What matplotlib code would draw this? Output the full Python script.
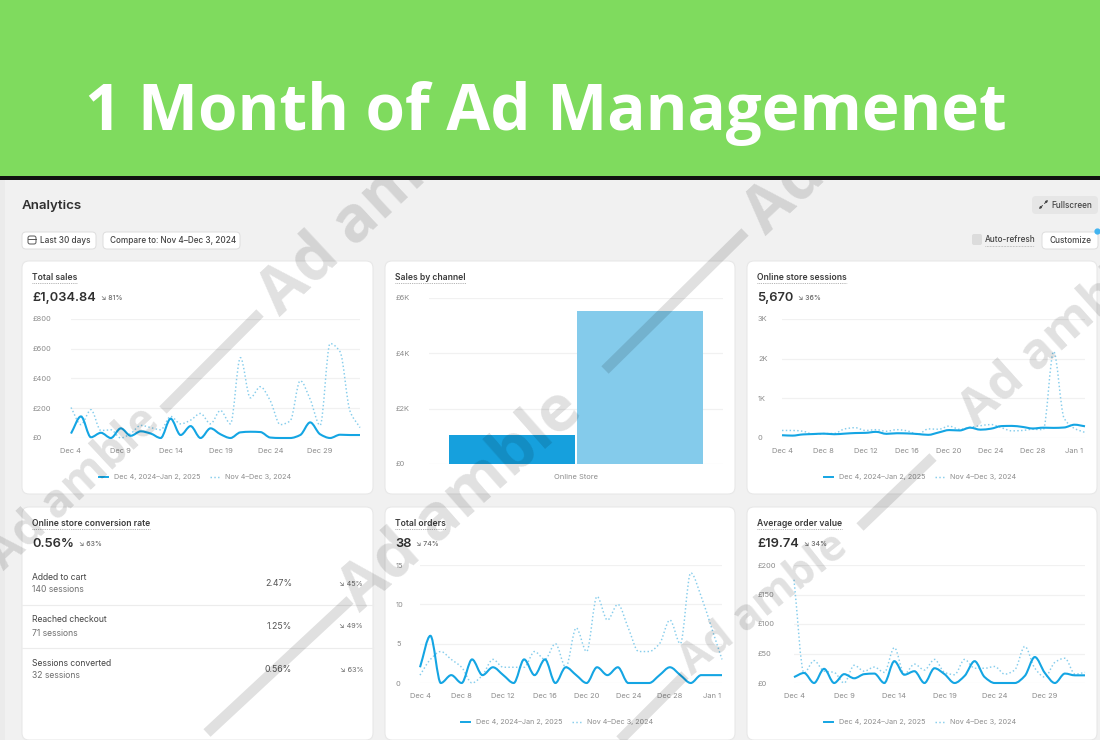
# analytics dashboard screenshot, six cards under a green banner

import matplotlib
matplotlib.use("Agg")
import numpy as np
import matplotlib.pyplot as plt
from matplotlib.path import Path
from matplotlib.patches import FancyBboxPatch, PathPatch, Rectangle
from matplotlib.lines import Line2D

plt.rcParams["font.family"] = ["Inter", "DejaVu Sans"]

W, H = 1100, 740

BANNER_TITLE = "1 Month of Ad Managemenet"
CUR_LABEL = "Dec 4, 2024\u2013Jan 2, 2025"
PREV_LABEL = "Nov 4\u2013Dec 3, 2024"

# per day values, Dec 4 to Jan 2
sales_cur = [30, 145, 5, 35, 0, 65, 15, 45, 30, 0, 130, 20, 80, 0, 65, 25, 0, 38, 42, 40, 3, 0, 0, 20, 105, 25, 0, 22, 20, 20]
sales_prev = [205, 90, 190, 50, 55, 0, 30, 85, 70, 55, 145, 95, 120, 165, 95, 185, 95, 540, 270, 345, 250, 90, 115, 385, 260, 85, 635, 580, 180, 70]
sessions_cur = [70, 60, 90, 100, 110, 95, 110, 125, 130, 155, 105, 120, 115, 100, 80, 140, 200, 190, 260, 210, 235, 300, 305, 280, 240, 260, 255, 265, 335, 295]
sessions_prev = [190, 190, 170, 95, 110, 115, 230, 260, 190, 210, 170, 210, 180, 90, 230, 220, 300, 220, 270, 310, 340, 260, 180, 190, 220, 210, 2180, 500, 240, 140]
orders_cur = [2, 6, 0, 1, 0, 3, 1, 2, 1, 0, 3, 1, 3, 0, 2, 1, 0, 2, 1, 2, 0, 0, 0, 1, 2, 1, 0, 1, 1, 1]
orders_prev = [1, 3, 4, 3, 2, 0, 1, 3, 2, 2, 2, 4, 3, 5, 2, 7, 4, 11, 8, 10, 7, 4, 4, 5, 8, 5, 14, 11, 7, 3]
aov_cur = [10, 17, 0, 24, 0, 15, 8, 15, 16, 0, 37, 14, 20, 0, 25, 15, 0, 12, 37, 10, 0, 0, 0, 12, 44, 17, 0, 16, 13, 13]
aov_prev = [175, 17, 38, 20, 18, 0, 30, 20, 27, 18, 60, 15, 32, 22, 40, 18, 14, 40, 25, 25, 28, 15, 22, 62, 25, 10, 35, 42, 15, 18]

channel_names = ["Online Store"]
channel_cur = [1034]
channel_prev = [5540]

funnel_names = ["Added to cart", "Reached checkout", "Sessions converted"]
funnel_sessions = ["140 sessions", "71 sessions", "32 sessions"]
funnel_rates = ["2.47%", "1.25%", "0.56%"]
funnel_changes = ["45%", "49%", "63%"]

every5_ticks = [0, 5, 10, 15, 20, 25]
every5_labels = ["Dec 4", "Dec 9", "Dec 14", "Dec 19", "Dec 24", "Dec 29"]
every4_ticks = [0, 4, 8, 12, 16, 20, 24, 28]
every4_labels = ["Dec 4", "Dec 8", "Dec 12", "Dec 16", "Dec 20", "Dec 24", "Dec 28", "Jan 1"]

GREEN = "#7fdb5e"
BLUE = "#14a5e3"
LIGHT = "#84cbeb"
DOTTED = "#86cdec"
TXT = "#303030"
GREY = "#8c8c8c"
GRID = "#f1f1f1"
PX = 0.72  # points per pixel at dpi 100


def axes_px(x0, y0, x1, y1, **kw):
    # rect given in image pixels, y down
    return fig.add_axes([x0 / W, 1 - y1 / H, (x1 - x0) / W, (y1 - y0) / H], **kw)


def monotone_path(ys):
    # monotone cubic through the daily values, drawn as bezier segments
    xs = np.arange(len(ys), dtype=float)
    ys = np.asarray(ys, dtype=float)
    d = np.diff(ys)
    m = np.zeros(len(ys))
    for i in range(1, len(ys) - 1):
        if d[i - 1] * d[i] > 0:
            m[i] = 2 * d[i - 1] * d[i] / (d[i - 1] + d[i])
    m[0] = d[0]
    m[-1] = d[-1]
    verts = [(xs[0], ys[0])]
    codes = [Path.MOVETO]
    for i in range(len(ys) - 1):
        verts.append((xs[i] + 1 / 3, ys[i] + m[i] / 3))
        verts.append((xs[i + 1] - 1 / 3, ys[i + 1] - m[i + 1] / 3))
        verts.append((xs[i + 1], ys[i + 1]))
        codes += [Path.CURVE4] * 3
    return Path(verts, codes)


def card(x0, y0, x1, y1):
    bg.add_patch(FancyBboxPatch((x0 + 7, y0 + 7), x1 - x0 - 14, y1 - y0 - 14,
                                boxstyle="round,pad=7,rounding_size=7",
                                fc="white", ec="#e8e8e8", lw=0.8, zorder=2))


def card_head(x, y, title, value=None, change=None):
    t = bg.text(x, y, title, fontsize=6.2, fontweight="semibold", color="#3c3c3c", va="center", zorder=3)
    r = t.get_window_extent(fig.canvas.get_renderer())
    bg.plot([x, x + r.width], [y + 6, y + 6], color="#9a9a9a", lw=0.6, ls=(0, (1, 1.2)), zorder=3)
    if value is None:
        return
    v = bg.text(x, y + 21, value, fontsize=9.3, fontweight="semibold", color=TXT, va="center", zorder=3)
    r = v.get_window_extent(fig.canvas.get_renderer())
    bg.text(x + r.width + 5, y + 21, "\u2198 " + change, fontsize=5, fontweight="medium", color="#6a6a6a",
            va="center", zorder=3)


def style_ax(ax, ylim, yticks, ylabels, ylab_x, left_px):
    ax.set_facecolor("none")
    ax.set_ylim(*ylim)
    ax.set_yticks(yticks)
    ax.set_yticklabels(ylabels)
    for s in ax.spines.values():
        s.set_visible(False)
    ax.grid(axis="y", color=GRID, lw=0.9)
    ax.set_axisbelow(True)
    ax.tick_params(length=0, labelsize=5.4, labelcolor=GREY)
    ax.tick_params(axis="x", pad=7.5)
    ax.tick_params(axis="y", pad=(left_px - ylab_x) * PX)
    # pad resets the alignment, so this has to come after it
    for lab in ax.get_yticklabels():
        lab.set_horizontalalignment("left")


def line_chart(rect, card_mid, cur, prev, ylim, yticks, ylabels, xticks, xlabels, ylab_x):
    ax = axes_px(*rect)
    ax.set_xlim(0, 29)
    ax.set_xticks(xticks)
    ax.set_xticklabels(xlabels)
    style_ax(ax, ylim, yticks, ylabels, ylab_x, rect[0])
    ax.add_patch(PathPatch(monotone_path(prev), fc="none", ec=DOTTED, lw=1.05, ls=(0, (1, 1.6)), clip_on=False))
    ax.add_patch(PathPatch(monotone_path(cur), fc="none", ec=BLUE, lw=1.5, clip_on=False))
    handles = [Line2D([], [], color=BLUE, lw=1.4), Line2D([], [], color=DOTTED, lw=1.05, ls=(0, (1, 1.6)))]
    ax.legend(handles, [CUR_LABEL, PREV_LABEL], loc="center", ncol=2, frameon=False, fontsize=5.2,
              labelcolor=GREY, bbox_to_anchor=(card_mid, rect[3] + 39), bbox_transform=bg.transData,
              handlelength=1.3, handletextpad=0.8, columnspacing=1.3)
    return ax


fig = plt.figure(figsize=(W / 100, H / 100), dpi=100, facecolor="#f1f1f1")

# background layer in image pixels
bg = fig.add_axes([0, 0, 1, 1])
bg.set_xlim(0, W)
bg.set_ylim(H, 0)
bg.axis("off")

bg.add_patch(Rectangle((0, 180), 5, H - 180, fc="#ebebeb", ec="none", zorder=1))
bg.text(22, 206, "Analytics", fontsize=9.6, fontweight="semibold", color=TXT, va="center", zorder=3)


def button(x0, y0, x1, y1, label, tx, fc="white"):
    bg.add_patch(FancyBboxPatch((x0 + 4, y0 + 4), x1 - x0 - 8, y1 - y0 - 8,
                                boxstyle="round,pad=4,rounding_size=4", fc=fc, ec="#dedede" if fc == "white" else "none",
                                lw=0.7, zorder=2))
    bg.text(tx, (y0 + y1) / 2, label, fontsize=5.9, fontweight="medium", color="#444444", va="center", zorder=3)


button(22, 232, 96, 249, "Last 30 days", 40)
button(103, 232, 240, 249, "Compare to: Nov 4\u2013Dec 3, 2024", 110)
button(1032, 196, 1098, 214, "Fullscreen", 1051, fc="#e6e6e6")
button(1042, 232, 1098, 249, "Customize", 1050)
bg.add_patch(FancyBboxPatch((28, 236), 8, 8, boxstyle="round,pad=0,rounding_size=2", fc="none", ec="#555555", lw=0.7, zorder=3))
bg.plot([28, 36], [238.5, 238.5], color="#555555", lw=0.7, zorder=3)
for tip, tail in [((1048, 200), (1044.5, 203.5)), ((1039, 209), (1042.5, 205.5))]:
    bg.annotate("", xy=tip, xytext=tail, arrowprops=dict(arrowstyle="-|>", color="#444444", lw=0.7, mutation_scale=3,
                                                         shrinkA=0, shrinkB=0), zorder=3)
bg.add_patch(FancyBboxPatch((973, 235), 8, 9, boxstyle="round,pad=1,rounding_size=2", fc="#dcdcdc", ec="none", zorder=2))
bg.text(985, 240, "Auto-refresh", fontsize=5.9, fontweight="medium", color="#444444", va="center", zorder=3)
bg.plot([985, 1034], [246, 246], color="#9a9a9a", lw=0.5, ls=(0, (1, 1.2)), zorder=3)
bg.scatter([1097], [231], s=12, color="#42b4f0", zorder=4)

card(22, 261, 373, 494)
card(385, 261, 735, 494)
card(747, 261, 1097, 494)
card(22, 507, 373, 740)
card(385, 507, 735, 740)
card(747, 507, 1097, 740)

card_head(32, 277, "Total sales", "\u00a31,034.84", "81%")
card_head(395, 277, "Sales by channel")
card_head(757, 277, "Online store sessions", "5,670", "36%")
card_head(32, 523, "Online store conversion rate", "0.56%", "63%")
card_head(395, 523, "Total orders", "38", "74%")
card_head(757, 523, "Average order value", "\u00a319.74", "34%")

# funnel rows in the conversion card
row_y = [576, 619, 662]
for i in range(3):
    bg.text(32, row_y[i] + 1, funnel_names[i], fontsize=6.2, color="#444444", va="center", zorder=3)
    bg.text(32, row_y[i] + 14, funnel_sessions[i], fontsize=6.2, color="#6f6f6f", va="center", zorder=3)
    bg.text(292, row_y[i] + 7.5, funnel_rates[i], fontsize=6.3, color="#555555", va="center", ha="right", zorder=3)
    bg.text(363, row_y[i] + 7.5, "\u2198 " + funnel_changes[i], fontsize=5.2, color="#6a6a6a", va="center", ha="right", zorder=3)
for y in [604.5, 647.5]:
    bg.plot([22, 373], [y, y], color="#ececec", lw=0.8, zorder=3)

# charts
line_chart((71, 319, 360, 438), 195, sales_cur, sales_prev, (0, 800), [0, 200, 400, 600, 800],
           ["\u00a30", "\u00a3200", "\u00a3400", "\u00a3600", "\u00a3800"], every5_ticks, every5_labels, 33)
line_chart((782, 319, 1085, 438), 920, sessions_cur, sessions_prev, (0, 3000), [0, 1000, 2000, 3000],
           ["0", "1K", "2K", "3K"], every4_ticks, every4_labels, 758)
line_chart((420, 565, 722, 683), 557, orders_cur, orders_prev, (0, 15), [0, 5, 10, 15],
           ["0", "5", "10", "15"], every4_ticks, every4_labels, 396)
line_chart((794, 565, 1085, 683), 920, aov_cur, aov_prev, (0, 200), [0, 50, 100, 150, 200],
           ["\u00a30", "\u00a350", "\u00a3100", "\u00a3150", "\u00a3200"], every5_ticks, every5_labels, 758)

# sales by channel
ax = axes_px(429, 298, 723, 464)
ax.set_xlim(-0.5, 0.5)
ax.set_xticks([0])
ax.set_xticklabels(channel_names)
style_ax(ax, (0, 6000), [0, 2000, 4000, 6000], ["\u00a30", "\u00a32K", "\u00a34K", "\u00a36K"], 396, 429)
ax.tick_params(axis="x", pad=7.5)
bar_w = 126 / 294
ax.bar([-bar_w / 2 - 0.003], channel_cur, width=bar_w, color="#16a0dd", zorder=3)
ax.bar([bar_w / 2 + 0.003], channel_prev, width=bar_w, color=LIGHT, zorder=3)

# watermark layer over the screenshot, banner goes over it
wm = fig.add_axes([0, 0, 1, 1], zorder=20)
wm.set_xlim(0, W)
wm.set_ylim(H, 0)
wm.axis("off")
stripes = [(163, 410, 260, 313), (605, 370, 745, 232), (207, 733, 350, 600),
           (620, 740, 685, 675), (860, 527, 933, 457)]
for x0, y0, x1, y1 in stripes:
    wm.plot([x0, x1], [y0, y1], color="black", alpha=0.12, lw=7.5, solid_capstyle="butt")
# anchor is the start of the word on its centre line, then size and angle
marks = [(268, 305, 46, 43), (349, 600, 46, 41.5), (685, 667, 31, 38.5), (967, 418, 37, 42),
         (754, 224, 46, 43), (-5, 562, 33, 43)]
for x, y, size, rot in marks:
    wm.text(x, y, "Ad amble", fontsize=size, fontweight="bold", color="black", alpha=0.12, rotation=rot,
            rotation_mode="anchor", ha="left", va="center", family="Open Sans", clip_on=True)

# banner on top
top = fig.add_axes([0, 0, 1, 1], zorder=30)
top.set_xlim(0, W)
top.set_ylim(H, 0)
top.axis("off")
top.add_patch(Rectangle((0, 0), W, 176, fc=GREEN, ec="none"))
top.add_patch(Rectangle((0, 176), W, 4, fc="#111111", ec="none"))
top.text(546, 130, BANNER_TITLE, fontsize=45.9, fontweight="bold", color="white", ha="center", va="baseline",
         family="Open Sans")

fig.savefig("out.png", dpi=100)
